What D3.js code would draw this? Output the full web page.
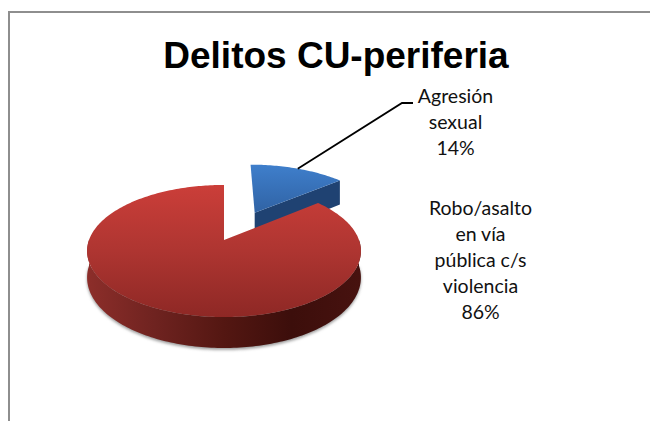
<!DOCTYPE html>
<html>
<head>
<meta charset="utf-8">
<script src="https://cdn.jsdelivr.net/npm/d3@7"></script>
<style>
  html, body { margin: 0; padding: 0; background: #fff; }
  svg { display: block; }
  .label { font-family: Lato, sans-serif; font-size: 19.5px; fill: #111; text-anchor: middle; }
  .title { font-family: "Liberation Sans", Arial, sans-serif; font-size: 37px; font-weight: bold; fill: #000; text-anchor: middle; }
</style>
</head>
<body>
<svg id="chart" width="650" height="421"></svg>
<script>
const title = 'Delitos CU-periferia';
const categories = ['Agresión sexual', 'Robo/asalto en vía pública c/s violencia'];
const values = [14, 86];
const labelLines = [
  ['Agresión', 'sexual', '14%'],
  ['Robo/asalto', 'en vía', 'pública c/s', 'violencia', '86%'],
];

const svg = d3.select('#chart');
const defs = svg.append('defs');

function gradient(id, x1, y1, x2, y2, stops) {
  const g = defs.append('linearGradient')
    .attr('id', id)
    .attr('gradientUnits', 'userSpaceOnUse')
    .attr('x1', x1).attr('y1', y1).attr('x2', x2).attr('y2', y2);
  stops.forEach(([o, c]) => g.append('stop').attr('offset', o).attr('stop-color', c));
}

gradient('redTop', 0, 185, 0, 317, [[0, '#cb3e39'], [0.5, '#ae3531'], [1, '#8e2825']]);
gradient('redSide', 86, 0, 360, 0, [[0, '#8d2e2a'], [0.25, '#6f2320'], [0.5, '#541712'], [0.75, '#3c0e0b'], [1, '#47120f']]);
gradient('blueTop', 0, 164, 0, 228, [[0, '#3f7fcc'], [1, '#2b5a98']]);

defs.append('filter').attr('id', 'blur')
  .attr('x', '-10%').attr('y', '-10%').attr('width', '120%').attr('height', '120%')
  .append('feGaussianBlur').attr('stdDeviation', 1.5);

// chart frame, only top and left survive the crop
svg.append('path')
  .attr('d', 'M9,421V12H650')
  .attr('fill', 'none')
  .attr('stroke', '#8e8e8e')
  .attr('stroke-width', 2);

svg.append('text')
  .attr('class', 'title')
  .attr('x', 336)
  .attr('y', 68)
  .text(title);

// perspective view of the disc: far edge is squeezed, near edge is stretched
const cx = 224, cy = 240, rx = 135, ry = 64.2, persp = 1 / 6, depth = 25.8;

function project(u, v, down = 0) {
  const w = 1 - persp * v;
  return [cx + (rx * u) / w, cy + (ry * v) / w + (down * depth) / w];
}

function rimPoint(angle, offset, down = 0) {
  const e = offset.explode;
  return project(Math.sin(angle) + e * Math.sin(offset.dir), -Math.cos(angle) - e * Math.cos(offset.dir), down);
}

function arcPoints(a0, a1, offset, down = 0) {
  const n = Math.max(2, Math.ceil(Math.abs(a1 - a0) / 0.02));
  return d3.range(n + 1).map(i => rimPoint(a0 + ((a1 - a0) * i) / n, offset, down));
}

const line = d3.line();
const arcs = d3.pie().sort(null)(values);
const explodes = [0.52, 0];

const slices = arcs.map((a, i) => ({
  start: a.startAngle,
  end: a.endAngle,
  mid: (a.startAngle + a.endAngle) / 2,
  offset: { dir: (a.startAngle + a.endAngle) / 2 + 0.05, explode: explodes[i] },
}));

const apex = (s, down = 0) => {
  const e = s.offset.explode;
  return project(e * Math.sin(s.offset.dir), -e * Math.cos(s.offset.dir), down);
};

const [blue, red] = slices;
const chart = svg.append('g');

// soft shadow under the front wall
const frontA0 = Math.PI / 2, frontA1 = (Math.PI * 3) / 2;
chart.append('path')
  .attr('d', line(arcPoints(frontA0, frontA1, red.offset, 1.06)) + 'Z')
  .attr('fill', '#9a9a9a')
  .attr('filter', 'url(#blur)');

// blue wedge: cut wall first, then top
chart.append('path')
  .attr('d', line([apex(blue), rimPoint(blue.end, blue.offset), rimPoint(blue.end, blue.offset, 1.1), apex(blue, 1.1)]) + 'Z')
  .attr('fill', '#1f4272');
chart.append('path')
  .attr('d', line([apex(blue), ...arcPoints(blue.start, blue.end, blue.offset)]) + 'Z')
  .attr('fill', 'url(#blueTop)');

// red wedge: front wall, then top
chart.append('path')
  .attr('d', line([...arcPoints(frontA0, frontA1, red.offset), ...arcPoints(frontA1, frontA0, red.offset, 1)]) + 'Z')
  .attr('fill', 'url(#redSide)');
chart.append('path')
  .attr('d', line([apex(red), ...arcPoints(red.start, red.end, red.offset)]) + 'Z')
  .attr('fill', 'url(#redTop)');

// leader line from the middle of the blue rim to its label
const anchor = rimPoint(blue.mid, blue.offset);
svg.append('path')
  .attr('d', line([anchor, [402, 103], [413, 103]]))
  .attr('fill', 'none')
  .attr('stroke', '#000')
  .attr('stroke-width', 1.8);

const labelPos = [
  { x: 455.5, y: 103, step: 26 },
  { x: 480.5, y: 215, step: 26 },
];

categories.forEach((name, i) => {
  const t = svg.append('text')
    .attr('class', 'label')
    .attr('aria-label', name);
  labelLines[i].forEach((txt, j) => {
    t.append('tspan')
      .attr('x', labelPos[i].x)
      .attr('y', labelPos[i].y + j * labelPos[i].step)
      .text(txt);
  });
});
</script>
</body>
</html>
